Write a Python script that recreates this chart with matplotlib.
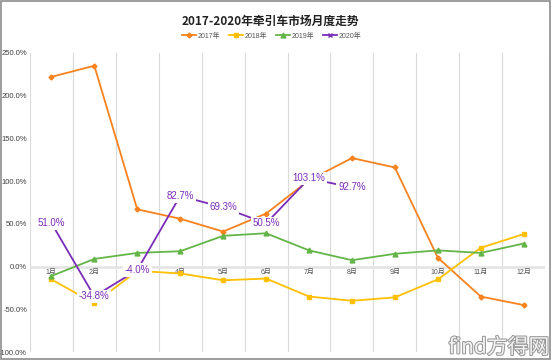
import matplotlib.pyplot as plt
import matplotlib.patheffects as pe
from matplotlib.patches import Rectangle

plt.rcParams['font.family'] = ['Liberation Sans', 'Noto Sans CJK SC', 'DejaVu Sans']

months = ['1月', '2月', '3月', '4月', '5月', '6月', '7月', '8月', '9月', '10月', '11月', '12月']
y2017 = [222, 235, 67, 56, 41, 62, 101, 127, 116, 10.5, -35, -45]
y2018 = [-15, -43, -5, -8, -16, -14, -35, -40, -36, -15, 22, 38]
y2019 = [-11, 9, 16, 18, 36, 39, 19, 7.5, 15, 19, 16, 27]
y2020 = [51.0, -34.8, -4.0, 82.7, 69.3, 50.5, 103.1, 92.7]
yticks = [250, 200, 150, 100, 50, 0, -50, -100]

fig = plt.figure(figsize=(5.54, 3.6), dpi=100)
ax = fig.add_axes([0.054, 0.022, 0.93, 0.831])

x = list(range(len(months)))
ax.plot(x, y2017, color='#F7821E', lw=1.3, marker='D', ms=2.5, label='2017年', zorder=3)
ax.plot(x, y2018, color='#FFC000', lw=1.3, marker='s', ms=3.5, label='2018年', zorder=3)
ax.plot(x, y2019, color='#63B548', lw=1.3, marker='^', ms=3.5, label='2019年', zorder=3)
x20 = x[:len(y2020)]
ax.plot(x20, y2020, color='#7B2CB8', lw=1.3, marker='x', ms=3.5, label='2020年', zorder=3)

# data labels sit on the points with a white box
for xi, v in zip(x20, y2020):
    ax.text(xi, v, f'{v:.1f}%', color='#7B2CB8', fontsize=7, ha='center', va='center',
            bbox=dict(facecolor='white', edgecolor='none', pad=1.2), zorder=6)

ax.set_xlim(-0.5, len(months) - 0.5)
ax.set_ylim(-100, 250)
for b in range(len(months) + 1):
    ax.axvline(b - 0.5, color='#DADADA', lw=0.8, zorder=1)
ax.axhline(0, color='#E3E3E3', lw=1.8, zorder=1)

ax.set_xticks([])
for xi, m in zip(x, months):
    ax.text(xi, -3, m, fontsize=5, color='#555555', ha='center', va='top', zorder=2)

ax.set_yticks(yticks)
ax.set_yticklabels([f'{t:.1f}%' for t in yticks], fontsize=5.5, color='#404040')
ax.tick_params(axis='y', length=0, pad=2)
for s in ax.spines.values():
    s.set_visible(False)

fig.text(0.488, 0.942, '2017-2020年牵引车市场月度走势', ha='center', va='center',
         fontsize=8.5, fontweight='bold', color='#222222', family='Noto Sans CJK SC')
fig.legend(loc='center', bbox_to_anchor=(0.49, 0.9), ncol=4, frameon=False,
           fontsize=5, handlelength=2.0, columnspacing=1.3, handletextpad=0.2,
           labelcolor='#555555')

fig.text(0.992, 0.035, 'find方得网', ha='right', va='center', fontsize=15,
         color='#F2F2F2', zorder=10, family='Noto Sans CJK SC',
         path_effects=[pe.withStroke(linewidth=1.5, foreground='#999999')])

fig.patches.append(Rectangle((0.002, 0.004), 0.99, 0.992, transform=fig.transFigure,
                             fill=False, edgecolor='#8C8C8C', lw=1.2))

fig.savefig('out.png', dpi=100)
